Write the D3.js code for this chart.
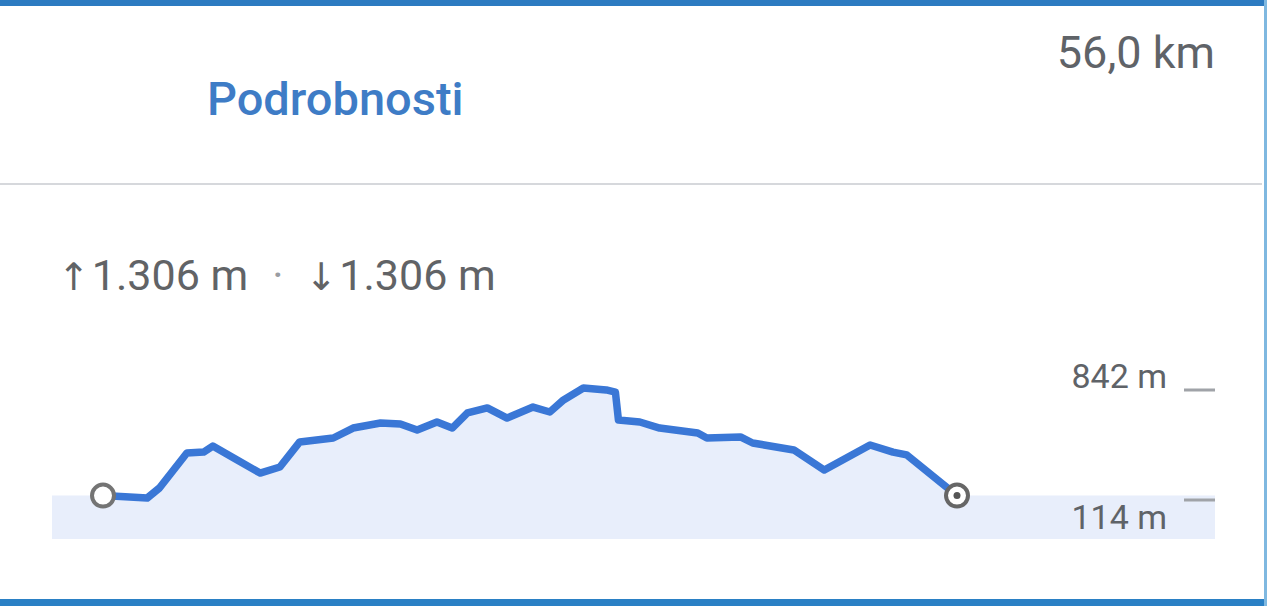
<!DOCTYPE html>
<html>
<head>
<meta charset="utf-8">
<script src="https://cdn.jsdelivr.net/npm/d3@7"></script>
<style>
  html, body { margin: 0; padding: 0; background: #ffffff; }
  svg { display: block; font-family: Roboto, "Noto Sans", sans-serif; }
</style>
</head>
<body>
<svg id="chart" width="1267" height="606"></svg>
<script>
// Route elevation profile: distance along the route (km) and elevation (m)
const distKm = [0, 2.9, 3.7, 5.5, 6.6, 7.2, 8.8, 10.3, 11.6, 12.9, 15.1, 16.4, 18.2, 19.5,
  20.6, 21.9, 22.9, 23.9, 25.2, 26.5, 28.2, 29.3, 30.2, 31.5, 33.0, 33.6, 33.8, 35.2,
  36.5, 39.0, 39.6, 41.8, 42.6, 45.3, 47.3, 50.3, 51.8, 52.7, 56.0];
const elevM = [130, 114, 180, 412, 418, 458, 365, 279, 319, 485, 511, 577, 610, 604,
  564, 617, 577, 677, 710, 643, 716, 683, 763, 842, 829, 815, 630, 617,
  577, 544, 511, 518, 478, 432, 299, 465, 418, 399, 130];

const totalDistance = "56,0 km";
const detailsLabel = "Podrobnosti";
const ascentLabel = "1.306 m";
const descentLabel = "1.306 m";
const tickValues = [842, 114];
const tickLabels = ["842 m", "114 m"];

const svg = d3.select("#chart");
const W = 1267, H = 606;

// frame
svg.append("rect").attr("x", 0).attr("y", 0).attr("width", W).attr("height", 6).attr("fill", "#2c7bc1");
svg.append("rect").attr("x", 0).attr("y", 599).attr("width", W).attr("height", 7).attr("fill", "#2a80c5");
svg.append("rect").attr("x", 1264).attr("y", 0).attr("width", 3).attr("height", H).attr("fill", "#7fb8e0");

// header
svg.append("text").attr("x", 1215).attr("y", 68).attr("text-anchor", "end")
  .attr("font-size", 45).attr("fill", "#5f6368").text(totalDistance);
svg.append("text").attr("x", 207).attr("y", 115)
  .attr("font-size", 47).attr("font-weight", 500).attr("fill", "#3e7cc6").text(detailsLabel);
svg.append("rect").attr("x", 0).attr("y", 183).attr("width", 1262).attr("height", 2).attr("fill", "#d6d8dc");

// ascent / descent summary
const summary = svg.append("text").attr("x", 58).attr("y", 290)
  .attr("font-size", 43).attr("fill", "#616366");
summary.append("tspan").attr("font-family", "DejaVu Sans").attr("font-size", 38).text("↑");
summary.append("tspan").attr("dx", 2).text(ascentLabel);
summary.append("tspan").attr("dx", 24).attr("fill", "#9a9da2").text("·");
summary.append("tspan").attr("dx", 22).attr("font-family", "DejaVu Sans").attr("font-size", 38).text("↓");
summary.append("tspan").attr("dx", 2).text(descentLabel);

// scales
const x = d3.scaleLinear().domain([0, 56]).range([103, 957]);
const y = d3.scaleLinear().domain([114, 842]).range([498, 388]);
const plotLeft = 52, plotRight = 1215, plotBottom = 539;

const pts = distKm.map((d, i) => ({ d, e: elevM[i] }));
const areaPts = [{ d: x.invert(plotLeft), e: elevM[0] }, ...pts,
  { d: x.invert(plotRight), e: elevM[elevM.length - 1] }];

svg.append("path").datum(areaPts)
  .attr("fill", "#e8eefb")
  .attr("d", d3.area().x(p => x(p.d)).y0(plotBottom).y1(p => y(p.e)));

svg.append("path").datum(pts)
  .attr("fill", "none").attr("stroke", "#3a77d6").attr("stroke-width", 7.5)
  .attr("stroke-linejoin", "round").attr("stroke-linecap", "round")
  .attr("d", d3.line().x(p => x(p.d)).y(p => y(p.e)));

// start and end markers
const first = pts[0], last = pts[pts.length - 1];
svg.append("circle").attr("cx", x(first.d)).attr("cy", y(first.e)).attr("r", 11)
  .attr("fill", "#ffffff").attr("stroke", "#747474").attr("stroke-width", 4);
svg.append("circle").attr("cx", x(last.d)).attr("cy", y(last.e)).attr("r", 11)
  .attr("fill", "#ffffff").attr("stroke", "#666666").attr("stroke-width", 4);
svg.append("circle").attr("cx", x(last.d)).attr("cy", y(last.e)).attr("r", 3.5)
  .attr("fill", "#555555");

// elevation range ticks
const ticks = svg.append("g");
tickValues.forEach((v, i) => {
  const ty = y(v) + 2;
  ticks.append("rect").attr("x", 1184).attr("y", ty - 1.5).attr("width", 31).attr("height", 3)
    .attr("fill", "#a0a3a8");
  ticks.append("text").attr("x", 1167).attr("y", i === 0 ? ty - 2 : ty + 29)
    .attr("text-anchor", "end").attr("font-size", 34).attr("fill", "#5f6368").text(tickLabels[i]);
});
</script>
</body>
</html>
